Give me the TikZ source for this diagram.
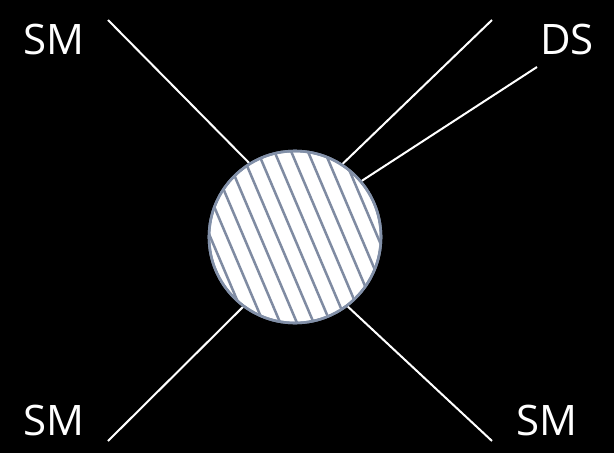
\documentclass[tikz,border=0pt]{standalone}
\usepackage{fontspec}
\setmainfont{Open Sans}
\usetikzlibrary{calc}
\begin{document}
\begin{tikzpicture}[x=1pt,y=-1pt,
  leg/.style={draw=white,line width=2pt},
  lbl/.style={text=white,font=\fontsize{42}{42}\selectfont,inner sep=0pt},
  blob/.style={circle,draw=blobedge,line width=2.6pt,fill=white,minimum size=172pt,inner sep=0pt},
  hatch/.style={draw=hatchcol,line width=2.5pt}]
\definecolor{blobedge}{HTML}{8290A8}
\definecolor{hatchcol}{HTML}{7F8BA2}
\fill[black] (0,0) rectangle (614,453);
\useasboundingbox (0,0) rectangle (614,453);
% line endpoints
\coordinate (tlo) at (108,20);  \coordinate (tli) at (260,174);
\coordinate (blo) at (108,441); \coordinate (bli) at (260,290);
\coordinate (tro) at (492,20);  \coordinate (tri) at (330,176);
\coordinate (bro) at (492,441); \coordinate (bri) at (330,290);
\coordinate (dso) at (537,67);  \coordinate (dsi) at (340,195);
\draw[leg] (tlo) -- (tli);
\draw[leg] (blo) -- (bli);
\draw[leg] (tro) -- (tri);
\draw[leg] (bro) -- (bri);
\draw[leg] (dso) -- (dsi);
% blob
\node[blob] (v) at (295,237) {};
\begin{scope}
  \clip (295,237) circle (85pt);
  \foreach \k in {-7,...,7}{
    \draw[hatch] ($(295,237)+(\k*15.4*0.921-1,-\k*15.4*0.391)+(-0.391*120,-0.921*120)$)
      -- ++(0.391*240,0.921*240);
  }
\end{scope}
\draw[draw=blobedge,line width=2.6pt] (v.center) circle (86pt);
% labels
\node[lbl] (sm1) at (54,39) {SM};
\node[lbl] (ds) at (567,39) {DS};
\node[lbl] (sm2) at (54,420) {SM};
\node[lbl] (sm3) at (547,420) {SM};
\end{tikzpicture}
\end{document}
